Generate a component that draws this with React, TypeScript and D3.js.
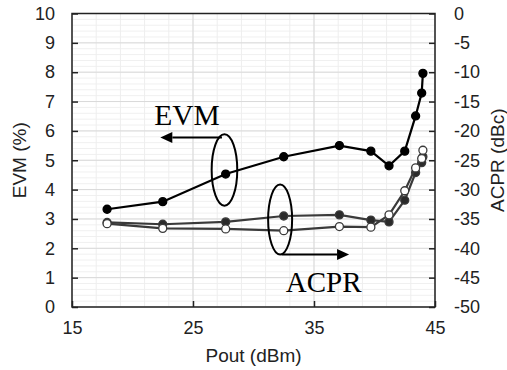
import { useRef, useEffect } from 'react';
import * as d3 from 'd3';

// Pout (dBm) sweep shared by all three curves
const pout = [17.9, 22.5, 27.7, 32.5, 37.1, 39.7, 41.2, 42.5, 43.4, 43.9, 44.0];
// EVM (%) — left axis
const evm = [3.33, 3.59, 4.53, 5.12, 5.5, 5.31, 4.81, 5.31, 6.51, 7.29, 7.96];
// ACPR (dBc) — right axis, filled and open markers
const acprFilled = [-35.6, -35.9, -35.5, -34.5, -34.3, -35.2, -35.5, -31.8, -27.1, -25.4, -24.4];
const acprOpen = [-35.8, -36.6, -36.7, -37.0, -36.3, -36.4, -34.3, -30.2, -26.3, -24.7, -23.3];

const xTicks = [15, 25, 35, 45];
const leftTicks = [0, 1, 2, 3, 4, 5, 6, 7, 8, 9, 10];
const rightTicks = [0, -5, -10, -15, -20, -25, -30, -35, -40, -45, -50];

const W = 507;
const H = 370;

export default function App() {
  const ref = useRef<SVGSVGElement | null>(null);

  useEffect(() => {
    if (!ref.current) return;
    const svg = d3.select(ref.current);
    svg.selectAll('*').remove();

    const margin = { top: 13.5, right: 72, bottom: 63, left: 72 };
    const iW = W - margin.left - margin.right;
    const iH = H - margin.top - margin.bottom;

    const x = d3.scaleLinear().domain([15, 45]).range([0, iW]);
    const yL = d3.scaleLinear().domain([0, 10]).range([iH, 0]);
    const yR = d3.scaleLinear().domain([-50, 0]).range([iH, 0]);

    svg.append('rect').attr('width', W).attr('height', H).attr('fill', '#fff');

    const g = svg.append('g').attr('transform', `translate(${margin.left},${margin.top})`);

    // Grid: minor then major
    const minorX = d3.range(15, 45.01, 2);
    const minorY = d3.range(0, 10.01, 0.2);
    g.append('g').selectAll('line').data(minorY).join('line')
      .attr('x1', 0).attr('x2', iW)
      .attr('y1', d => yL(d)).attr('y2', d => yL(d))
      .attr('stroke', '#f0f0f0').attr('stroke-width', 1);
    g.append('g').selectAll('line').data(minorX).join('line')
      .attr('y1', 0).attr('y2', iH)
      .attr('x1', d => x(d)).attr('x2', d => x(d))
      .attr('stroke', '#eeeeee').attr('stroke-width', 1);
    g.append('g').selectAll('line').data(leftTicks).join('line')
      .attr('x1', 0).attr('x2', iW)
      .attr('y1', d => yL(d)).attr('y2', d => yL(d))
      .attr('stroke', '#d9d9d9').attr('stroke-width', 1);
    g.append('g').selectAll('line').data(xTicks).join('line')
      .attr('y1', 0).attr('y2', iH)
      .attr('x1', d => x(d)).attr('x2', d => x(d))
      .attr('stroke', '#d9d9d9').attr('stroke-width', 1);

    // Frame
    g.append('rect').attr('width', iW).attr('height', iH)
      .attr('fill', 'none').attr('stroke', '#222').attr('stroke-width', 1.5);

    const font = 'Arial, "Liberation Sans", sans-serif';
    const fmt = (d: d3.NumberValue) => String(d);

    // Axes (inward ticks)
    g.append('g')
      .call(d3.axisLeft(yL).tickValues(leftTicks).tickFormat(fmt).tickSize(-6).tickPadding(17))
      .call(ax => ax.select('.domain').remove())
      .call(ax => ax.selectAll('.tick line').attr('stroke', '#222').attr('stroke-width', 1.5))
      .call(ax => ax.selectAll('text').attr('fill', '#222').attr('font-size', 18).attr('font-family', font));

    g.append('g').attr('transform', `translate(${iW},0)`)
      .call(d3.axisRight(yR).tickValues(rightTicks).tickFormat(fmt).tickSize(-6).tickPadding(19))
      .call(ax => ax.select('.domain').remove())
      .call(ax => ax.selectAll('.tick line').attr('stroke', '#222').attr('stroke-width', 1.5))
      .call(ax => ax.selectAll('text').attr('fill', '#222').attr('font-size', 18).attr('font-family', font));

    g.append('g').attr('transform', `translate(0,${iH})`)
      .call(d3.axisBottom(x).tickValues(xTicks).tickFormat(fmt).tickSize(-6).tickPadding(14))
      .call(ax => ax.select('.domain').remove())
      .call(ax => ax.selectAll('.tick line').attr('stroke', '#222').attr('stroke-width', 1.5))
      .call(ax => ax.selectAll('text').attr('fill', '#222').attr('font-size', 18).attr('font-family', font));

    // Axis titles
    svg.append('text')
      .attr('x', margin.left + iW / 2).attr('y', 362)
      .attr('text-anchor', 'middle').attr('font-size', 19).attr('font-family', font)
      .attr('fill', '#222').text('Pout (dBm)');
    svg.append('text')
      .attr('transform', `translate(26,${margin.top + iH / 2}) rotate(-90)`)
      .attr('text-anchor', 'middle').attr('font-size', 19).attr('font-family', font)
      .attr('fill', '#222').text('EVM (%)');
    svg.append('text')
      .attr('transform', `translate(504,${margin.top + iH / 2}) rotate(-90)`)
      .attr('text-anchor', 'middle').attr('font-size', 19).attr('font-family', font)
      .attr('fill', '#222').text('ACPR (dBc)');

    // Series
    const series = [
      { values: acprFilled, scale: yR, color: '#3a3a3a', fill: '#2a2a2a' },
      { values: acprOpen, scale: yR, color: '#3a3a3a', fill: '#fff' },
      { values: evm, scale: yL, color: '#000', fill: '#000' },
    ];
    series.forEach(s => {
      const pts = pout.map((p, i) => [x(p), s.scale(s.values[i])] as [number, number]);
      g.append('path')
        .attr('d', d3.line()(pts))
        .attr('fill', 'none').attr('stroke', s.color).attr('stroke-width', 2.2);
      g.append('g').selectAll('circle').data(pts).join('circle')
        .attr('cx', d => d[0]).attr('cy', d => d[1]).attr('r', 4)
        .attr('fill', s.fill).attr('stroke', s.color).attr('stroke-width', 1.3);
    });

    // Annotations: ellipses + arrows + labels
    const drawArrow = (x1: number, y1: number, tip: number, dir: number) => {
      const base = tip - dir * 12;
      g.append('line').attr('x1', x1).attr('y1', y1).attr('x2', base).attr('y2', y1)
        .attr('stroke', '#000').attr('stroke-width', 2);
      g.append('path')
        .attr('d', `M${tip},${y1}L${base},${y1 - 5.5}L${base},${y1 + 5.5}Z`)
        .attr('fill', '#000');
    };

    // EVM ellipse
    const ex = x(27.6), ey = yL(4.67);
    g.append('ellipse').attr('cx', ex).attr('cy', ey).attr('rx', 12.8).attr('ry', 35.7)
      .attr('fill', 'none').attr('stroke', '#000').attr('stroke-width', 2);
    drawArrow(ex - 2.5, ey - 32.5, x(22.3), -1);
    g.append('text').attr('x', x(24.5)).attr('y', yL(6.20))
      .attr('text-anchor', 'middle').attr('font-size', 29.5)
      .attr('font-family', '"Liberation Serif", "Times New Roman", serif')
      .attr('fill', '#000').text('EVM');

    // ACPR ellipse
    const ax = x(32.2), ay = yR(-35.1);
    g.append('ellipse').attr('cx', ax).attr('cy', ay).attr('rx', 12).attr('ry', 35)
      .attr('fill', 'none').attr('stroke', '#000').attr('stroke-width', 2);
    drawArrow(ax + 1.5, ay + 35, x(37.9), 1);
    g.append('text').attr('x', x(35.8)).attr('y', yR(-47.4))
      .attr('text-anchor', 'middle').attr('font-size', 29)
      .attr('font-family', '"Liberation Serif", "Times New Roman", serif')
      .attr('fill', '#000').text('ACPR');
  }, []);

  return (
    <svg
      ref={ref}
      width={W}
      height={H}
      style={{ position: 'absolute', left: 0, top: 0, display: 'block' }}
    />
  );
}
